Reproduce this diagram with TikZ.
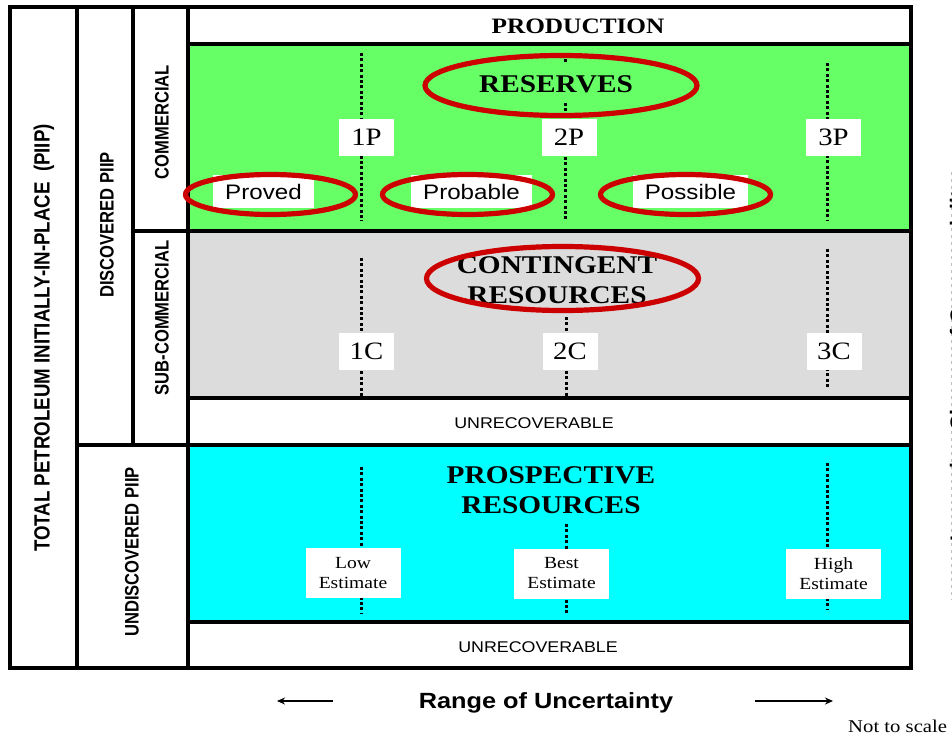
\documentclass[tikz,border=0pt]{standalone}
\usepackage{fontspec}
\usetikzlibrary{arrows.meta}
\setmainfont{Liberation Serif}[FakeStretch=1.15]
\setsansfont{Liberation Sans}[FakeStretch=1.15]
\newfontfamily\rotsf{Liberation Sans}[FakeStretch=0.85]
\newfontfamily\plainsf{Liberation Sans}
\definecolor{resgreen}{HTML}{66FF66}
\definecolor{contgray}{HTML}{DCDCDC}
\definecolor{prospcyan}{HTML}{00FFFF}
\definecolor{ellred}{HTML}{CC0000}
\begin{document}
\begin{tikzpicture}[x=1pt,y=-1pt,
  frameline/.style={line width=3.6pt, line cap=rect},
  dotline/.style={line width=3pt, dash pattern=on 3pt off 2.4pt},
  ring/.style={draw=ellred, line width=5.2pt},
  title/.style={font=\fontsize{25.5}{29.5}\selectfont\bfseries, align=center, inner sep=0pt},
  tagbox/.style={fill=white, inner sep=0pt, font=\fontsize{25}{26}\selectfont, minimum width=55pt, minimum height=37pt},
  catbox/.style={fill=white, inner sep=0pt, font=\sffamily\fontsize{21}{22}\selectfont, minimum height=33pt},
  estbox/.style={fill=white, inner sep=0pt, align=center, font=\fontsize{17}{20}\selectfont, minimum width=95pt, minimum height=50pt},
  sidelabel/.style={rotate=90, inner sep=0pt, font=\rotsf\bfseries\fontsize{19.5}{19.5}\selectfont},
  unrec/.style={anchor=base, inner sep=0pt, font=\sffamily\fontsize{15.5}{16}\selectfont},
  uarrow/.style={line width=2.2pt, -{Stealth[length=8pt,width=7pt]}}
]
\useasboundingbox (0,0) rectangle (952,736);
\clip (0,0) rectangle (952,736);
% coloured bands
\fill[resgreen] (188,44) rectangle (911,231);
\fill[contgray] (188,231) rectangle (911,398);
\fill[prospcyan] (188,445) rectangle (911,622);
% dotted separators
\draw[dotline] (361,53) -- (361,221);
\draw[dotline] (565,59) -- (565,64);
\draw[dotline] (565,103) -- (565,221);
\draw[dotline] (827,63) -- (827,221);
\draw[dotline] (361,258) -- (361,396);
\draw[dotline] (566,317) -- (566,396);
\draw[dotline] (827,249) -- (827,389);
\draw[dotline] (361,467) -- (361,613);
\draw[dotline] (566,524) -- (566,613);
\draw[dotline] (827,463) -- (827,609);
% frame
\draw[frameline] (10,7) rectangle (911,668);
\draw[frameline] (77,7) -- (77,668);
\draw[frameline] (133,7) -- (133,445);
\draw[frameline] (188,7) -- (188,668);
\draw[frameline] (188,44) -- (911,44);
\draw[frameline] (133,231) -- (911,231);
\draw[frameline] (188,398) -- (911,398);
\draw[frameline] (77,445) -- (911,445);
\draw[frameline] (188,622) -- (911,622);
% side labels
\node[sidelabel, font=\rotsf\bfseries\fontsize{22}{22}\selectfont] (piip) at (44,338) {TOTAL PETROLEUM INITIALLY-IN-PLACE\ \ (PIIP)};
\node[sidelabel] (disc) at (107,225) {DISCOVERED PIIP};
\node[sidelabel] (comm) at (162,122) {COMMERCIAL};
\node[sidelabel] (subcomm) at (162,318) {SUB-COMMERCIAL};
\node[sidelabel] (undisc) at (132,552) {UNDISCOVERED PIIP};
% titles
\node[title, anchor=base, font=\fontsize{22}{22}\selectfont\bfseries] (prod) at (578,33) {PRODUCTION};
\node[title, anchor=base] (res) at (556,92) {RESERVES};
\node[title] (cont) at (557,280) {CONTINGENT\\RESOURCES};
\node[title] (prosp) at (551,490) {PROSPECTIVE\\RESOURCES};
% P / C tags
\node[tagbox] (p1) at (366.5,137.5) {1P};
\node[tagbox] (p2) at (569,137.5) {2P};
\node[tagbox] (p3) at (833.5,137.5) {3P};
\node[tagbox] (c1) at (366.5,351.5) {1C};
\node[tagbox] (c2) at (570,351.5) {2C};
\node[tagbox] (c3) at (834,351.5) {3C};
% categories
\node[catbox, minimum width=101pt] (proved) at (263.5,191.5) {Proved};
\node[catbox, minimum width=121pt] (probable) at (471.5,191.5) {Probable};
\node[catbox, minimum width=115pt] (possible) at (690.5,191.5) {Possible};
% estimates
\node[estbox] (low) at (353,573) {Low\\Estimate};
\node[estbox] (best) at (561.5,573.5) {Best\\Estimate};
\node[estbox] (high) at (833.5,574) {High\\Estimate};
% unrecoverable
\node[unrec] (unrec1) at (534,428) {UNRECOVERABLE};
\node[unrec] (unrec2) at (538,652) {UNRECOVERABLE};
% red rings
\draw[ring] (270.5,194.5) ellipse [x radius=85pt, y radius=20pt];
\draw[ring] (467.5,194.5) ellipse [x radius=85pt, y radius=20pt];
\draw[ring] (685.5,194.5) ellipse [x radius=85pt, y radius=20pt];
\draw[ring] (561,85.5) ellipse [x radius=136pt, y radius=30pt];
\draw[ring] (562.5,278.5) ellipse [x radius=136pt, y radius=32pt];
% range of uncertainty
\node[anchor=base, inner sep=0pt, font=\sffamily\bfseries\fontsize{22}{22}\selectfont] (range) at (546,708) {Range of Uncertainty};
\coordinate (la) at (333,701);
\coordinate (lb) at (277,701);
\coordinate (ra) at (755,701);
\coordinate (rb) at (833,701);
\draw[uarrow] (la) -- (lb);
\draw[uarrow] (ra) -- (rb);
\node[anchor=base west, inner sep=0pt, font=\fontsize{18}{18}\selectfont] (nts) at (848,732) {Not to scale};
% cut-off side label on the right edge (as in the reference)
\coordinate (da) at (951,172);
\coordinate (db) at (951,600);
\draw[black!25, line width=1pt, dash pattern=on 3pt off 4pt] (da) -- (db);
\node[rotate=90, anchor=base west, inner sep=0pt, font=\plainsf\bfseries\fontsize{21}{21}\selectfont] (chance) at (965,542) {Increasing Chance of Commerciality};
\end{tikzpicture}
\end{document}
